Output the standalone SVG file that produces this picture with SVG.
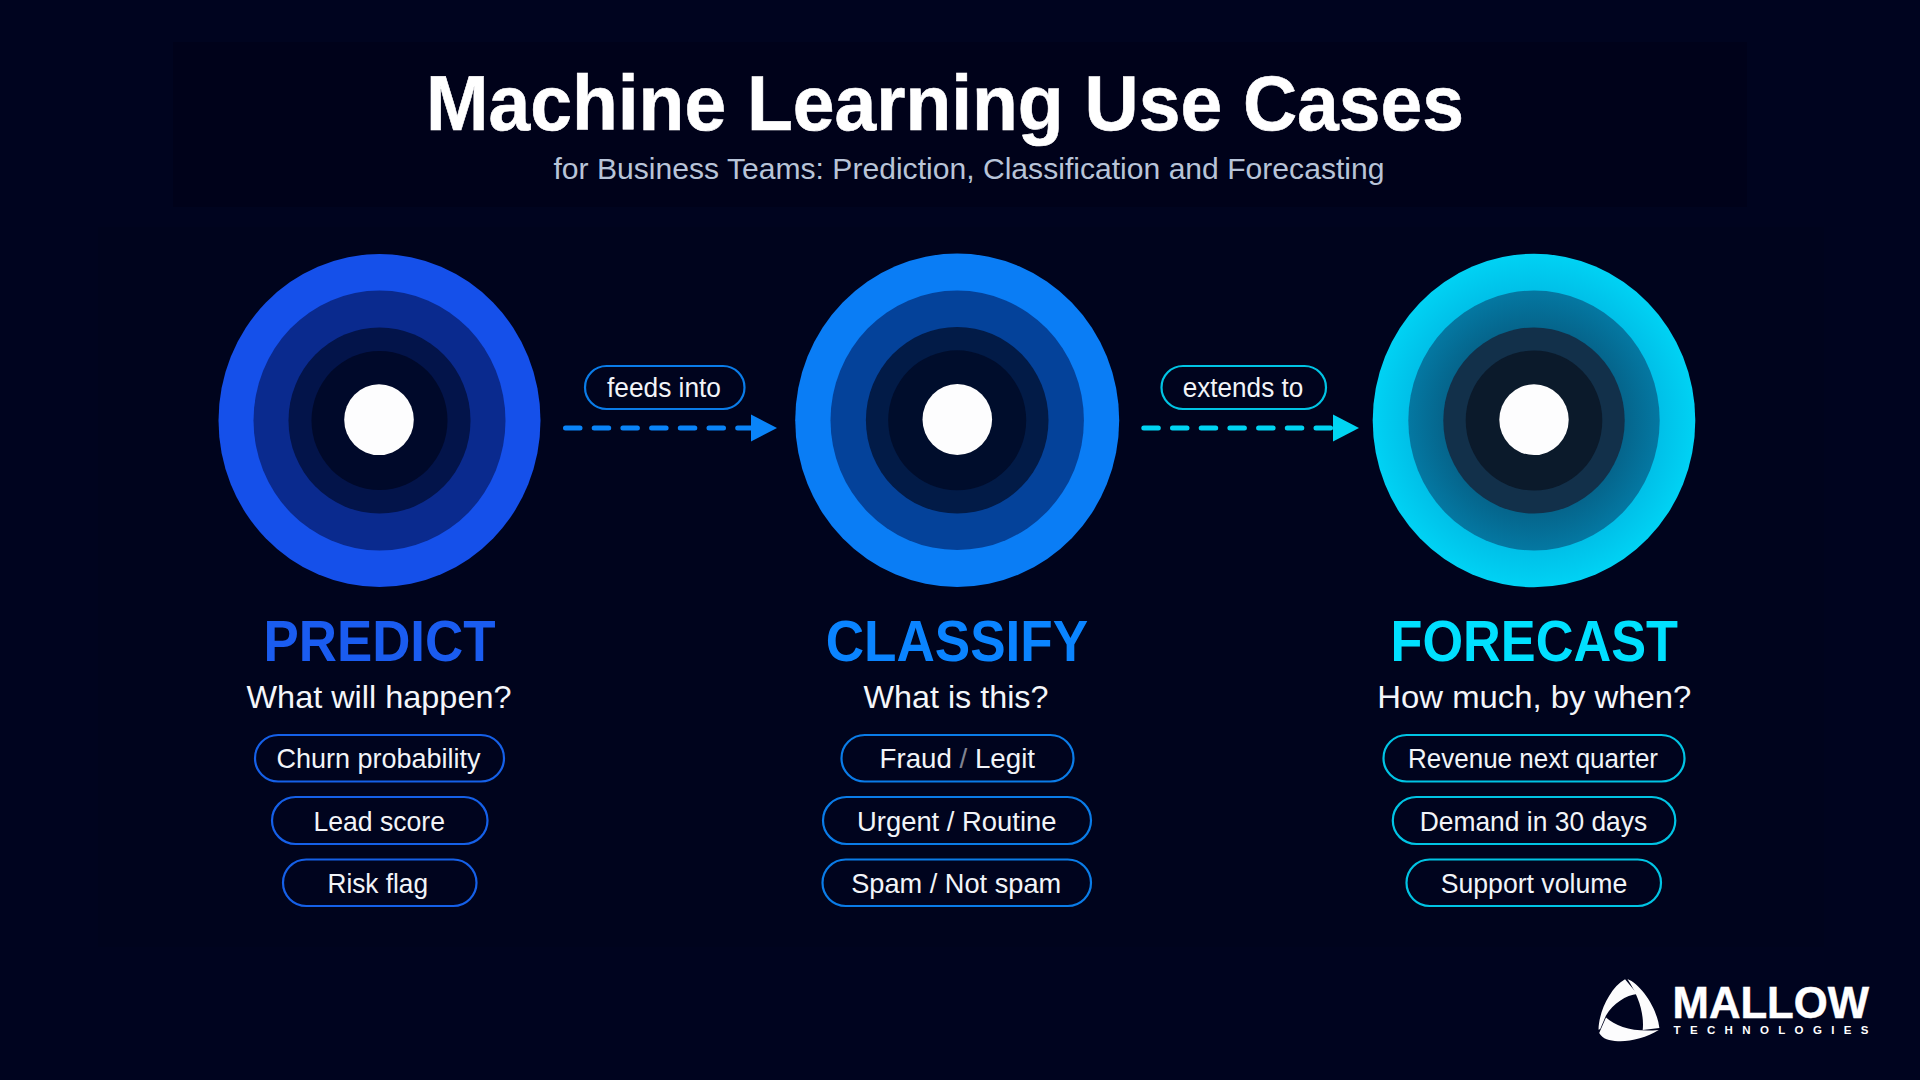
<svg xmlns="http://www.w3.org/2000/svg" width="1920" height="1080" viewBox="0 0 1920 1080">
<defs>
<style>
text{font-family:"Liberation Sans",Arial,sans-serif;fill:#fff}
.title{font-size:78px;font-weight:700;stroke:#fff;stroke-width:0.6px}
.sub{font-size:30px;fill:#b8c4d8}
.head{font-size:56.5px;font-weight:700}
.q{font-size:32px;fill:#f4f6fa}
.chip{font-size:27.5px;fill:#f2f4f8}
.lbl{font-size:27px;fill:#f2f4f8}
.pill{fill:#00041e;stroke-width:2.2}
.dash{fill:none;stroke-width:5;stroke-linecap:round;stroke-dasharray:14.5 14.2}
.dot{fill:#fdfdfe}
</style>
<marker id="headBlue" markerUnits="userSpaceOnUse" markerWidth="27" markerHeight="28" refX="0" refY="14" orient="auto" viewBox="0 0 27 28"><path d="M0 0.5L26 14L0 27.5Z" fill="#0a84f8"/></marker>
<marker id="headCyan" markerUnits="userSpaceOnUse" markerWidth="27" markerHeight="28" refX="0" refY="14" orient="auto" viewBox="0 0 27 28"><path d="M0 0.5L26 14L0 27.5Z" fill="#00d4f2"/></marker>
<radialGradient id="cyanOuter"><stop offset="0.78" stop-color="#00c0e8"/><stop offset="1" stop-color="#00d2f4"/></radialGradient>
<radialGradient id="cyanRing"><stop offset="0.72" stop-color="#05658c"/><stop offset="1" stop-color="#0478a2"/></radialGradient>
</defs>
<rect id="background" width="1920" height="1080" fill="#00041f"/>
<rect x="173" y="42" width="1574" height="165" fill="#00021a"/>
<rect x="98" y="227" width="1726" height="720" fill="#00041d"/>

<g id="title">
<text class="title" x="426" y="130" textLength="1038" lengthAdjust="spacingAndGlyphs">Machine Learning Use Cases</text>
<text class="sub" x="553.5" y="179" textLength="831" lengthAdjust="spacingAndGlyphs">for Business Teams: Prediction, Classification and Forecasting</text>
</g>

<g id="predict">
<ellipse cx="379.5" cy="420.5" rx="161" ry="166.5" fill="#1550ea"/>
<ellipse cx="379.5" cy="420.5" rx="126" ry="130" fill="#0a2a8e"/>
<ellipse cx="379.5" cy="420.5" rx="91" ry="93" fill="#03144a"/>
<ellipse cx="379.5" cy="420.5" rx="68" ry="69.5" fill="#00092a"/>
<ellipse class="dot" cx="379" cy="419.7" rx="34.8" ry="35.4"/>
<text class="head" x="263.500" y="661" textLength="232" lengthAdjust="spacingAndGlyphs" style="fill:#1a5cf0">PREDICT</text>
<text class="q" x="246.500" y="708" textLength="265" lengthAdjust="spacingAndGlyphs">What will happen?</text>
<g stroke="#1560e8">
<rect class="pill" x="255" y="735" width="249" height="46.5" rx="23.2"/>
<rect class="pill" x="272" y="797" width="215.500" height="47" rx="23.500"/>
<rect class="pill" x="283" y="859.500" width="193.500" height="46.500" rx="23.200"/>
</g>
<text class="chip" x="276.500" y="767.700" textLength="204" lengthAdjust="spacingAndGlyphs">Churn probability</text>
<text class="chip" x="313.500" y="831" textLength="131.500" lengthAdjust="spacingAndGlyphs">Lead score</text>
<text class="chip" x="327.500" y="892.700" textLength="100.500" lengthAdjust="spacingAndGlyphs">Risk flag</text>
</g>

<g id="classify">
<ellipse cx="957.200" cy="420.300" rx="162" ry="166.700" fill="#0a7df5"/>
<ellipse cx="957.200" cy="420.300" rx="126.700" ry="129.700" fill="#04429a"/>
<ellipse cx="957.200" cy="420.300" rx="91.300" ry="93.300" fill="#021b47"/>
<ellipse cx="957.200" cy="420.300" rx="69" ry="70" fill="#000d2c"/>
<ellipse class="dot" cx="957.300" cy="419.500" rx="34.800" ry="35.400"/>
<text class="head" x="825.700" y="661" textLength="262.500" lengthAdjust="spacingAndGlyphs" style="fill:#0a84ff">CLASSIFY</text>
<text class="q" x="863.500" y="708" textLength="185" lengthAdjust="spacingAndGlyphs">What is this?</text>
<g stroke="#0a7ce8">
<rect class="pill" x="841.500" y="735" width="232" height="46.500" rx="23.200"/>
<rect class="pill" x="823" y="797" width="268" height="47" rx="23.500"/>
<rect class="pill" x="822.500" y="859.500" width="268.500" height="46.500" rx="23.200"/>
</g>
<text class="chip" x="879.500" y="767.700" textLength="155.500" lengthAdjust="spacingAndGlyphs">Fraud <tspan fill-opacity="0.55">/</tspan> Legit</text>
<text class="chip" x="857" y="831" textLength="199.500" lengthAdjust="spacingAndGlyphs">Urgent / Routine</text>
<text class="chip" x="851.200" y="892.700" textLength="210" lengthAdjust="spacingAndGlyphs">Spam / Not spam</text>
</g>

<g id="forecast">
<ellipse cx="1534" cy="420.500" rx="161.300" ry="166.700" fill="url(#cyanOuter)"/>
<ellipse cx="1534" cy="420.500" rx="125.700" ry="130" fill="url(#cyanRing)"/>
<ellipse cx="1534" cy="420.500" rx="90.700" ry="93" fill="#12304a"/>
<ellipse cx="1534" cy="420.500" rx="68.300" ry="70" fill="#0b1a2b"/>
<ellipse class="dot" cx="1534" cy="419.700" rx="34.700" ry="35.400"/>
<text class="head" x="1390.500" y="661" textLength="287.500" lengthAdjust="spacingAndGlyphs" style="fill:#00e0ff">FORECAST</text>
<text class="q" x="1377.300" y="708" textLength="314" lengthAdjust="spacingAndGlyphs">How much, by when?</text>
<g stroke="#00c4e4">
<rect class="pill" x="1383.500" y="735" width="301" height="46.500" rx="23.200"/>
<rect class="pill" x="1392.800" y="797" width="282.500" height="47" rx="23.500"/>
<rect class="pill" x="1406.500" y="859.500" width="254.500" height="46.500" rx="23.200"/>
</g>
<text class="chip" x="1408" y="767.700" textLength="250" lengthAdjust="spacingAndGlyphs">Revenue next quarter</text>
<text class="chip" x="1419.700" y="831" textLength="227.500" lengthAdjust="spacingAndGlyphs">Demand in 30 days</text>
<text class="chip" x="1440.700" y="892.700" textLength="186.500" lengthAdjust="spacingAndGlyphs">Support volume</text>
</g>

<g id="connectors">
<path class="dash" d="M565.500 428H751" stroke="#0a84f8" marker-end="url(#headBlue)"/>
<path class="dash" d="M1143.800 428H1333" stroke="#00d4f2" marker-end="url(#headCyan)"/>
<g id="label-feeds">
<rect class="pill" x="585" y="366" width="159.500" height="43" rx="21.500" stroke="#0a7ce8"/>
<text class="lbl" x="607" y="396.700" textLength="114" lengthAdjust="spacingAndGlyphs">feeds into</text>
</g>
<g id="label-extends">
<rect class="pill" x="1161.500" y="366" width="164.500" height="43" rx="21.500" stroke="#00c4e4"/>
<text class="lbl" x="1182.800" y="396.700" textLength="120.400" lengthAdjust="spacingAndGlyphs">extends to</text>
</g>
</g>

<g id="logo">
<g transform="translate(1589 969.500) scale(0.34)" fill="#fcfcfd">
<path d="M106 29L142 72C110 75 70 100 50 135L33 175L28 177C28 130 60 55 106 29Z"/>
<path d="M113 28C150 42 200 110 207 172L158 178C163 130 145 75 113 28Z"/>
<path d="M50 141C80 168 130 185 205 178C170 200 120 213 85 211C60 210 40 205 30 187Z"/>
</g>
<text x="1672.500" y="1018" font-size="44" font-weight="700" stroke="#fff" stroke-width="0.5" textLength="196.500" lengthAdjust="spacingAndGlyphs">MALLOW</text>
<text x="1673.500" y="1034" font-size="11.500" font-weight="700" textLength="195" lengthAdjust="spacing">TECHNOLOGIES</text>
</g>
</svg>
